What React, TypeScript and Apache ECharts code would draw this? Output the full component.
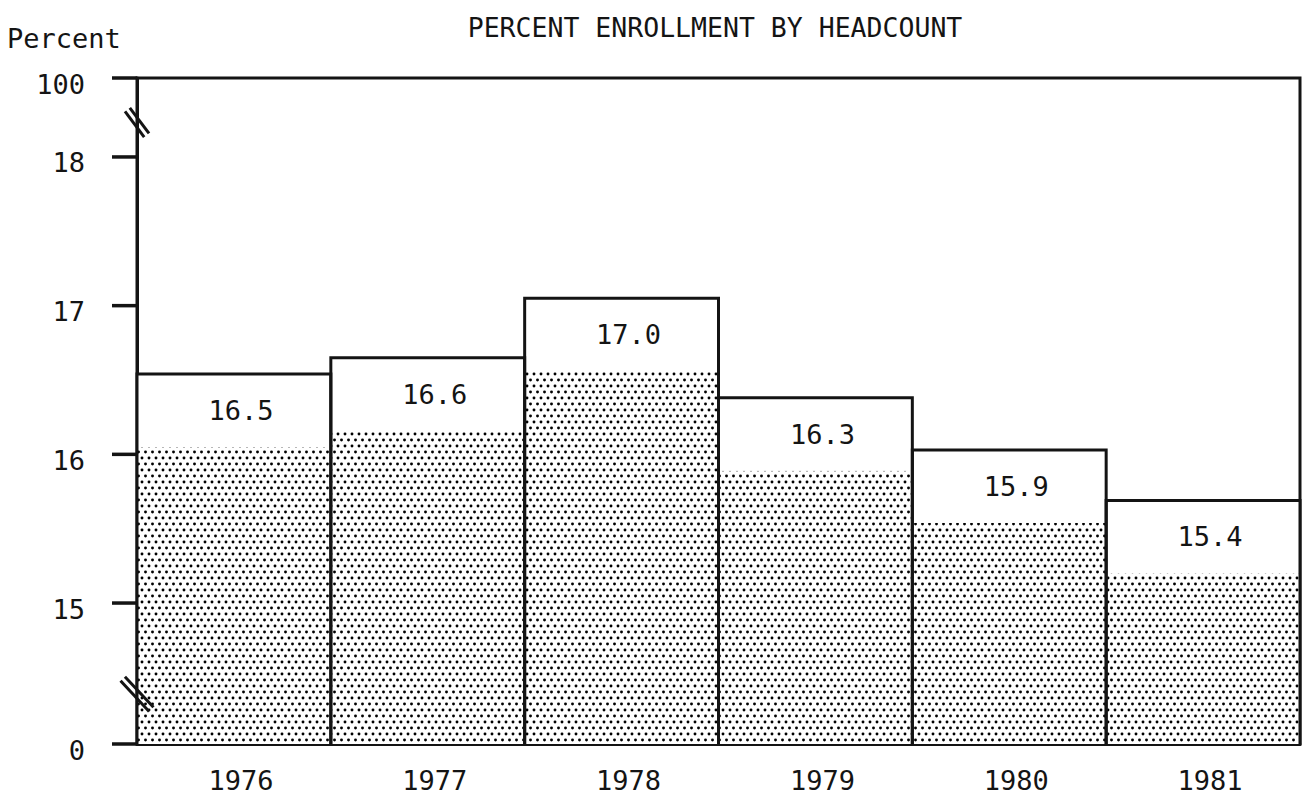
import React, { useEffect, useRef } from 'react';
import * as echarts from 'echarts';

// ---- data ----
const years = ['1976', '1977', '1978', '1979', '1980', '1981'];
// printed value inside each bar
const printedValues = ['16.5', '16.6', '17.0', '16.3', '15.9', '15.4'];
// height of each bar as drawn, read against the (broken) percent axis
const barTops = [16.54, 16.65, 17.05, 16.38, 16.03, 15.69];
// white label band at the top of every bar (percent units)
const labelBand = 0.49;
// broken axis: "0" and "100" sit at these positions of the 15..18 scale
const axisFloor = 14.052;
const axisCeiling = 18.531;
const tickValues = [14.052, 15, 16, 17, 18, 18.531];
const tickLabels = ['0', '15', '16', '17', '18', '100'];
const axisBreaks = [14.388, 18.232];

const INK = '#141414';
const FONT = "'DejaVu Sans Mono', 'Liberation Mono', monospace";
const LW = 3;

function makeDots(): HTMLCanvasElement {
  const c = document.createElement('canvas');
  c.width = 7;
  c.height = 12;
  const ctx = c.getContext('2d')!;
  ctx.fillStyle = '#ffffff';
  ctx.fillRect(0, 0, 7, 12);
  ctx.fillStyle = '#000000';
  ctx.beginPath();
  ctx.arc(2, 2, 1.45, 0, Math.PI * 2);
  ctx.fill();
  ctx.beginPath();
  ctx.arc(5.5, 8, 1.45, 0, Math.PI * 2);
  ctx.fill();
  return c;
}

export default function App() {
  const ref = useRef<HTMLDivElement>(null);

  useEffect(() => {
    if (!ref.current) return;
    const chart = echarts.init(ref.current, undefined, { renderer: 'svg' });
    const dots = makeDots();

    const option: any = {
      animation: false,
      backgroundColor: '#ffffff',
      grid: {
        left: 137,
        right: 2,
        top: 78,
        bottom: 50,
        show: true,
        borderColor: INK,
        borderWidth: LW,
        backgroundColor: 'transparent',
      },
      graphic: [
        {
          type: 'text',
          x: 715,
          y: 27,
          style: {
            text: 'PERCENT ENROLLMENT BY HEADCOUNT',
            fill: INK,
            font: `26.5px ${FONT}`,
            align: 'center',
            textAlign: 'center',
            verticalAlign: 'middle',
            textVerticalAlign: 'middle',
          },
        },
        {
          type: 'text',
          x: 7,
          y: 38,
          style: {
            text: 'Percent',
            fill: INK,
            font: `27px ${FONT}`,
            align: 'left',
            textAlign: 'left',
            verticalAlign: 'middle',
            textVerticalAlign: 'middle',
          },
        },
      ],
      xAxis: {
        type: 'category',
        data: years,
        axisTick: { show: false },
        axisLine: { lineStyle: { color: INK, width: LW } },
        axisLabel: {
          color: INK,
          fontSize: 27,
          fontFamily: FONT,
          margin: 36,
          verticalAlign: 'middle',
          padding: [0, 0, 0, 14],
        },
      },
      yAxis: {
        type: 'value',
        min: axisFloor,
        max: axisCeiling,
        splitLine: { show: false },
        axisLabel: { show: false },
        axisTick: { show: false },
        axisLine: { show: true, lineStyle: { color: INK, width: LW } },
      },
      series: [
        {
          type: 'bar',
          name: 'shaded',
          stack: 'bar',
          data: barTops.map((v) => +(v - labelBand).toFixed(3)),
          barCategoryGap: '0%',
          barGap: '-100%',
          clip: true,
          silent: true,
          itemStyle: { color: { image: dots, repeat: 'repeat' } },
        },
        {
          type: 'bar',
          name: 'band',
          stack: 'bar',
          data: barTops.map(() => labelBand),
          barCategoryGap: '0%',
          barGap: '-100%',
          clip: true,
          itemStyle: { color: '#ffffff' },
          label: {
            show: true,
            position: 'inside',
            offset: [7, 0],
            formatter: (p: any) => printedValues[p.dataIndex],
            color: INK,
            fontSize: 27,
            fontFamily: FONT,
            textBorderWidth: 0,
          },
        },
        {
          type: 'custom',
          name: 'outline',
          data: barTops.map((v, i) => [i, v]),
          clip: false,
          z: 3,
          renderItem: (params: any, api: any) => {
            const i = api.value(0);
            const top = api.coord([i, api.value(1)]);
            const bottomY = api.coord([i, axisFloor])[1];
            const w = api.size([1, 0])[0];
            const xl = top[0] - w / 2;
            const xr = top[0] + w / 2;
            return {
              type: 'polyline',
              shape: {
                points: [
                  [xl, bottomY],
                  [xl, top[1]],
                  [xr, top[1]],
                  [xr, bottomY],
                ],
              },
              style: { stroke: INK, lineWidth: LW, fill: 'none', lineJoin: 'miter' },
            };
          },
        },
        {
          type: 'custom',
          name: 'ticks',
          data: tickValues.map((v, i) => [0, v, i]),
          clip: false,
          z: 4,
          renderItem: (params: any, api: any) => {
            const y = api.coord([0, api.value(1)])[1];
            const x0 = params.coordSys.x;
            const label = tickLabels[api.value(2)];
            return {
              type: 'group',
              children: [
                {
                  type: 'line',
                  shape: { x1: x0 - 25, y1: y, x2: x0, y2: y },
                  style: { stroke: INK, lineWidth: 3.5 },
                },
                {
                  type: 'text',
                  x: x0 - 52,
                  y: y + 6,
                  style: {
                    text: label,
                    fill: INK,
                    font: `27px ${FONT}`,
                    align: 'right',
                    textAlign: 'right',
                    verticalAlign: 'middle',
                    textVerticalAlign: 'middle',
                  },
                },
              ],
            };
          },
        },
        {
          type: 'custom',
          name: 'breaks',
          data: axisBreaks.map((v, i) => [0, v, i]),
          clip: false,
          z: 5,
          renderItem: (params: any, api: any) => {
            const y = api.coord([0, api.value(1)])[1];
            const x0 = params.coordSys.x;
            const isLow = api.value(2) === 0;
            const len = isLow ? 42 : 32;
            const dx = isLow ? 0.68 : 0.6;
            const dy = isLow ? 0.73 : 0.8;
            const nx = dy, ny = -dx;
            const mk = (s: number) => {
              const cx = x0 + s * nx * 3;
              const cy = y + s * ny * 3;
              return {
                type: 'line',
                shape: {
                  x1: cx - (dx * len) / 2,
                  y1: cy - (dy * len) / 2,
                  x2: cx + (dx * len) / 2,
                  y2: cy + (dy * len) / 2,
                },
                style: { stroke: INK, lineWidth: 3 },
              };
            };
            return { type: 'group', children: [mk(-1), mk(1)] };
          },
        },
      ],
    };

    chart.setOption(option);
    return () => chart.dispose();
  }, []);

  return (
    <div
      ref={ref}
      style={{ position: 'fixed', left: 0, top: 0, width: 1302, height: 794, background: '#fff' }}
    />
  );
}
